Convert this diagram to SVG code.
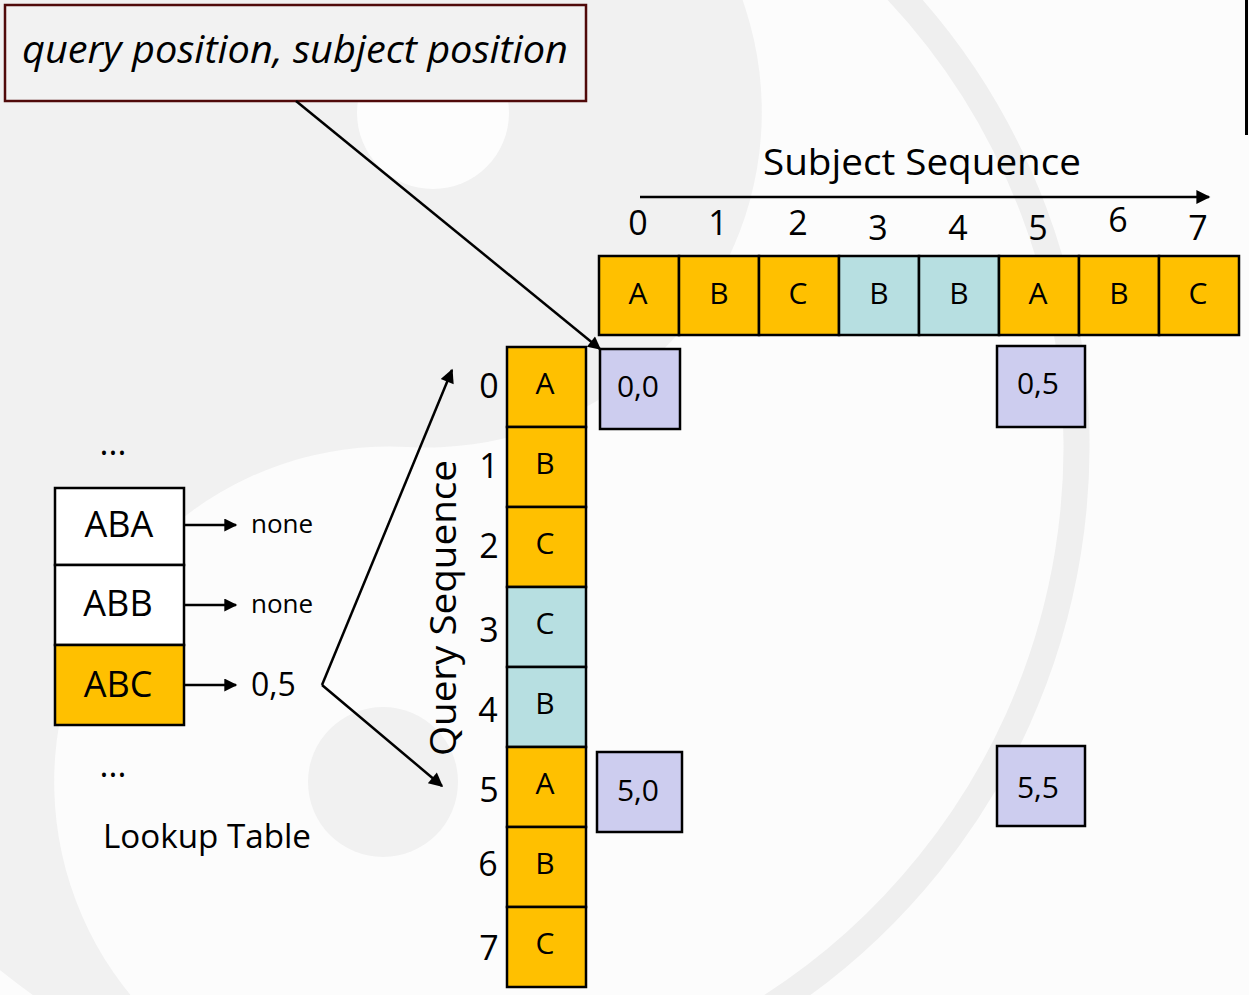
<svg xmlns="http://www.w3.org/2000/svg" width="1249" height="995" viewBox="0 0 1249 995">
  <style>
    text { font-family: "Open Sans", "Liberation Sans", sans-serif; fill: #000; }
    .cell { stroke: #000; stroke-width: 2.5; }
    .gold { fill: #FFC000; }
    .teal { fill: #B7DFE1; }
    .hit { fill: #CDCDEF; stroke: #000; stroke-width: 2.5; }
    .white { fill: #FFFFFF; }
    .lbl { font-size: 30px; text-anchor: middle; }
    .idx { font-size: 34px; text-anchor: middle; }
    .pos { font-size: 30px; text-anchor: middle; }
    .key { font-size: 36px; text-anchor: middle; }
    .conn { stroke: #000; stroke-width: 2.5; fill: none; }
  </style>
  <defs>
    <marker id="arrow" viewBox="0 0 10 10" refX="9" refY="5" markerWidth="17" markerHeight="14" markerUnits="userSpaceOnUse" orient="auto">
      <path d="M0,0 L10,5 L0,10 z" fill="#000"/>
    </marker>
    <marker id="arrowS" viewBox="0 0 10 10" refX="9" refY="5" markerWidth="15" markerHeight="13" markerUnits="userSpaceOnUse" orient="auto">
      <path d="M0,0 L10,5 L0,10 z" fill="#000"/>
    </marker>
  </defs>

  <!-- faint yin-yang backdrop -->
  <g id="backdrop">
    <rect x="0" y="0" width="1249" height="995" fill="#fcfcfc"/>
    <path d="M458,-222 A671,671 0 0 0 358,1116 A335.5,335.5 0 0 1 408,447 A335.5,335.5 0 0 0 458,-222 Z" fill="#f1f1f1"/>
    <rect x="0" y="0" width="200" height="300" fill="#f1f1f1"/>
    <circle cx="433" cy="113" r="76" fill="#fdfdfd"/>
    <circle cx="383" cy="782" r="75" fill="#f1f1f1"/>
    <path d="M866,-40 A666,666 0 0 1 691,1050" fill="none" stroke="#efefef" stroke-width="26"/>
    <line x1="1246.5" y1="0" x2="1246.5" y2="135" stroke="#000" stroke-width="3"/>
  </g>

  <!-- callout -->
  <g id="callout">
    <rect x="5" y="5" width="581" height="96" fill="#f2f2f2" stroke="#500a0a" stroke-width="2.5"/>
    <text x="295" y="63" font-size="38" font-style="italic" text-anchor="middle" textLength="546" lengthAdjust="spacingAndGlyphs">query position, subject position</text>
  </g>

  <!-- subject sequence -->
  <g id="subject">
    <text x="922" y="175" font-size="37" text-anchor="middle" textLength="318" lengthAdjust="spacingAndGlyphs">Subject Sequence</text>
    <text class="idx" x="638" y="235">0</text>
    <text class="idx" x="718" y="235">1</text>
    <text class="idx" x="798" y="235">2</text>
    <text class="idx" x="878" y="240">3</text>
    <text class="idx" x="958" y="240">4</text>
    <text class="idx" x="1038" y="240">5</text>
    <text class="idx" x="1118" y="232">6</text>
    <text class="idx" x="1198" y="240">7</text>
    <rect class="cell gold" x="599" y="256" width="80" height="79"/>
    <rect class="cell gold" x="679" y="256" width="80" height="79"/>
    <rect class="cell gold" x="759" y="256" width="80" height="79"/>
    <rect class="cell teal" x="839" y="256" width="80" height="79"/>
    <rect class="cell teal" x="919" y="256" width="80" height="79"/>
    <rect class="cell gold" x="999" y="256" width="80" height="79"/>
    <rect class="cell gold" x="1079" y="256" width="80" height="79"/>
    <rect class="cell gold" x="1159" y="256" width="80" height="79"/>
    <text class="lbl" x="638" y="304">A</text>
    <text class="lbl" x="719" y="304">B</text>
    <text class="lbl" x="798" y="304">C</text>
    <text class="lbl" x="879" y="304">B</text>
    <text class="lbl" x="959" y="304">B</text>
    <text class="lbl" x="1038" y="304">A</text>
    <text class="lbl" x="1119" y="304">B</text>
    <text class="lbl" x="1198" y="304">C</text>
  </g>

  <!-- query sequence -->
  <g id="query">
    <text transform="translate(456,608) rotate(-90)" font-size="37" text-anchor="middle" textLength="296" lengthAdjust="spacingAndGlyphs">Query Sequence</text>
    <text class="idx" x="489" y="398">0</text>
    <text class="idx" x="489" y="478">1</text>
    <text class="idx" x="489" y="558">2</text>
    <text class="idx" x="489" y="642">3</text>
    <text class="idx" x="488" y="722">4</text>
    <text class="idx" x="489" y="802">5</text>
    <text class="idx" x="488" y="876">6</text>
    <text class="idx" x="489" y="960">7</text>
    <rect class="cell gold" x="507" y="347" width="79" height="80"/>
    <rect class="cell gold" x="507" y="427" width="79" height="80"/>
    <rect class="cell gold" x="507" y="507" width="79" height="80"/>
    <rect class="cell teal" x="507" y="587" width="79" height="80"/>
    <rect class="cell teal" x="507" y="667" width="79" height="80"/>
    <rect class="cell gold" x="507" y="747" width="79" height="80"/>
    <rect class="cell gold" x="507" y="827" width="79" height="80"/>
    <rect class="cell gold" x="507" y="907" width="79" height="80"/>
    <text class="lbl" x="545" y="394">A</text>
    <text class="lbl" x="545" y="474">B</text>
    <text class="lbl" x="545" y="554">C</text>
    <text class="lbl" x="545" y="634">C</text>
    <text class="lbl" x="545" y="714">B</text>
    <text class="lbl" x="545" y="794">A</text>
    <text class="lbl" x="545" y="874">B</text>
    <text class="lbl" x="545" y="954">C</text>
  </g>

  <!-- matching word hits -->
  <g id="hit-0-0">
    <rect class="hit" x="600" y="349" width="80" height="80"/>
    <text class="pos" x="638" y="397">0,0</text>
  </g>
  <g id="hit-0-5">
    <rect class="hit" x="997" y="346" width="88" height="81"/>
    <text class="pos" x="1038" y="394">0,5</text>
  </g>
  <g id="hit-5-0">
    <rect class="hit" x="597" y="752" width="85" height="80"/>
    <text class="pos" x="638" y="801">5,0</text>
  </g>
  <g id="hit-5-5">
    <rect class="hit" x="997" y="746" width="88" height="80"/>
    <text class="pos" x="1038" y="798">5,5</text>
  </g>

  <!-- lookup table -->
  <g id="lookup">
    <text x="113" y="455" font-size="34" text-anchor="middle">...</text>
    <rect class="cell white" x="55" y="488" width="129" height="77"/>
    <rect class="cell white" x="55" y="565" width="129" height="80"/>
    <rect class="cell gold" x="55" y="645" width="129" height="80"/>
    <text class="key" x="119" y="537">ABA</text>
    <text class="key" x="118" y="616">ABB</text>
    <text class="key" x="118" y="697">ABC</text>
    <text x="251" y="533" font-size="26">none</text>
    <text x="251" y="613" font-size="26">none</text>
    <text x="251" y="696" font-size="32">0,5</text>
    <text x="113" y="777" font-size="34" text-anchor="middle">...</text>
    <text x="103" y="848" font-size="32" textLength="208" lengthAdjust="spacingAndGlyphs">Lookup Table</text>
  </g>

  <!-- connectors -->
  <g id="connectors">
    <line class="conn" x1="640" y1="197" x2="1209" y2="197" marker-end="url(#arrow)"/>
    <line class="conn" x1="184" y1="525" x2="236" y2="525" marker-end="url(#arrowS)"/>
    <line class="conn" x1="184" y1="605" x2="236" y2="605" marker-end="url(#arrowS)"/>
    <line class="conn" x1="184" y1="685" x2="236" y2="685" marker-end="url(#arrowS)"/>
    <line class="conn" x1="322" y1="685" x2="452" y2="370" marker-end="url(#arrow)"/>
    <line class="conn" x1="322" y1="685" x2="442" y2="786" marker-end="url(#arrow)"/>
    <line class="conn" x1="296" y1="101" x2="600" y2="349" marker-end="url(#arrowS)"/>
  </g>
</svg>
